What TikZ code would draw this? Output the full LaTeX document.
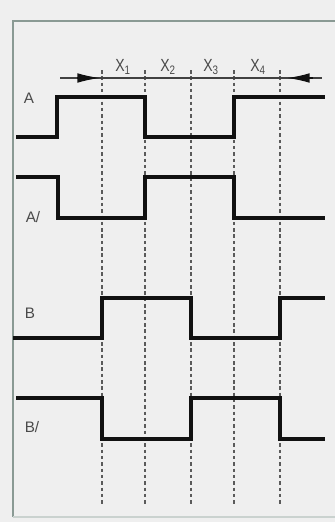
\documentclass[tikz,border=0pt]{standalone}
\usepackage{fontspec}
\setmainfont{Liberation Sans}
\usepackage{tikz}
\usetikzlibrary{arrows.meta}
\definecolor{fondogris}{HTML}{EFEFEF}
\definecolor{marcoverde}{HTML}{8A9A94}
\definecolor{textogris}{HTML}{4A4A4A}
\definecolor{guiagris}{HTML}{5A5A5A}
\definecolor{senalnegra}{HTML}{111111}

\begin{document}
\begin{tikzpicture}[x=0.03cm, y=-0.03cm,
    senal/.style={draw=senalnegra, line width=2.9pt, line join=miter},
    guia/.style={draw=guiagris, line width=1.3pt, dash pattern=on 3pt off 2.4pt},
    etiqueta/.style={font=\fontsize{13}{15}\selectfont, text=textogris, inner sep=0pt},
    cota/.style={font=\fontsize{15}{17}\selectfont, text=textogris, inner sep=0pt, xscale=0.8}]
  % Fondo y marco
  \fill[fondogris] (0,0) rectangle (335,522);
  \useasboundingbox (0,0) rectangle (335,522);
  \clip (0,0) rectangle (335,522);
  \draw[marcoverde, line width=2.2pt] (13,517) -- (13,21) -- (345,21);
  \draw[marcoverde!45, line width=1.2pt] (13,517) -- (345,517);
  % Lineas de tiempo
  \foreach \x in {102, 145, 191, 234, 280} {
    \draw[guia] (\x,70) -- (\x,505);
  }
  % Cota superior
  \draw[senalnegra!80, line width=1.4pt] (60,78) -- (322,78);
  \draw[-{Latex[length=6.8mm, width=2.9mm]}, senalnegra, line width=1.4pt] (77,78) -- (100,78);
  \draw[-{Latex[length=6.8mm, width=2.9mm]}, senalnegra, line width=1.4pt] (313,78) -- (287,78);
  \node[cota] (x1) at (123,67) {X\textsubscript{1}};
  \node[cota] (x2) at (168,67) {X\textsubscript{2}};
  \node[cota] (x3) at (211,67) {X\textsubscript{3}};
  \node[cota] (x4) at (258,67) {X\textsubscript{4}};
  % Senales
  \draw[senal] (16,137) -- (57,137) -- (57,97) -- (145,97) -- (145,137) -- (234,137) -- (234,97) -- (325,97);
  \draw[senal] (16,177) -- (58,177) -- (58,218) -- (145,218) -- (145,177) -- (234,177) -- (234,218) -- (325,218);
  \draw[senal] (13,338) -- (102,338) -- (102,298) -- (191,298) -- (191,338) -- (280,338) -- (280,298) -- (325,298);
  \draw[senal] (16,398) -- (102,398) -- (102,439) -- (191,439) -- (191,398) -- (280,398) -- (280,439) -- (325,439);
  \node[etiqueta] (la) at (29,98) {A};
  \node[etiqueta] (lan) at (33,217) {A/};
  \node[etiqueta] (lb) at (30,313) {B};
  \node[etiqueta] (lbn) at (32,427) {B/};
\end{tikzpicture}
\end{document}
